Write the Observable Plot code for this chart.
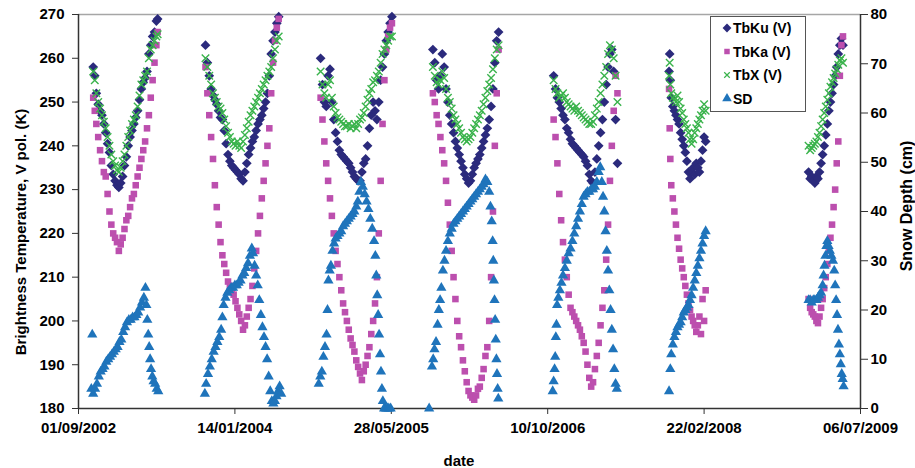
<!DOCTYPE html>
<html>
<head>
<meta charset="utf-8">
<script src="https://cdn.jsdelivr.net/npm/d3@7"></script>
<script src="https://cdn.jsdelivr.net/npm/@observablehq/plot@0.6"></script>
<style>
  html, body { margin: 0; padding: 0; background: #fff; }
  #wrap { position: relative; width: 915px; height: 468px; overflow: hidden; font-family: "Liberation Sans", Arial, sans-serif; }
  #wrap > svg, #wrap > figure { position: absolute; left: 0; top: 0; margin: 0; }
</style>
</head>
<body>
<div id="wrap"></div>
<script>
// ---------- tick labels / axes ----------
const xTickDates = ["2002-09-01", "2004-01-14", "2005-05-28", "2006-10-10", "2008-02-22", "2009-07-06"];
const leftTicks = [180, 190, 200, 210, 220, 230, 240, 250, 260, 270];
const rightTicks = [0, 10, 20, 30, 40, 50, 60, 70, 80];
const seriesNames = ["TbKu (V)", "TbKa (V)", "TbX (V)", "SD"];

// ---------- season 2002-03 ----------
const tbDates1 = ["2002-10-18","2002-10-23","2002-10-28","2002-11-03","2002-11-09","2002-11-15","2002-11-21","2002-11-27","2002-12-03","2002-12-09","2002-12-15","2002-12-21","2002-12-27","2003-01-02","2003-01-08","2003-01-14","2003-01-20","2003-01-26","2003-02-01","2003-02-07","2003-02-13","2003-02-19","2003-02-25","2003-03-03","2003-03-09","2003-03-15","2003-03-21","2003-03-27","2003-04-02","2003-04-08","2003-04-14","2003-04-20","2003-04-26","2003-05-02","2003-05-08","2003-05-12"];
const ku1 = [258,256,252,249.5,248,247,245,243,240.5,238.5,235.5,233.5,232,231,230.5,231.5,233,235.5,237.5,240,242,243.5,245,246.5,248,250.5,253,254.5,255.5,257,261,263,265,266,268.5,269];
const ka1 = [251,248,245,242,239,236.5,234,233,229,225,222,220,219,218,216,217.5,219,221,223,224,226,228,229,231,233,235,237,239,241,244,247,251,255,259,263,266];
const tx1 = [257,255,252,250,248.5,247,245.5,244,242,240,238,236.5,235.5,234.5,234,235,236.5,238,240,242,243.5,245,246,247,249,251.5,254,255,256,257,260,262,263,264,265,265.5];
const sdDates1 = ["2002-10-12","2002-10-15","2002-10-18","2002-10-24","2002-10-30","2002-11-05","2002-11-11","2002-11-17","2002-11-23","2002-11-29","2002-12-05","2002-12-11","2002-12-17","2002-12-23","2002-12-29","2003-01-04","2003-01-10","2003-01-16","2003-01-22","2003-01-28","2003-02-03","2003-02-09","2003-02-15","2003-02-21","2003-02-27","2003-03-05","2003-03-11","2003-03-17","2003-03-23","2003-03-29","2003-04-03","2003-04-06","2003-04-09","2003-04-12","2003-04-15","2003-04-18","2003-04-21","2003-04-25","2003-04-29","2003-05-04","2003-05-09","2003-05-14"];
const sd1 = [4,15,3,4,5,6.5,7.5,8,8.5,9.5,10,10.5,11,11.5,12,12.5,13.5,14,15.5,16.5,17.5,18,18,18.5,18.5,19,19.5,20.5,21.5,22.5,24.5,21,18,15,12.5,10,8,6.5,5.5,5,4,3.5];

// ---------- season 2003-04 ----------
const tbDates2 = ["2003-10-12","2003-10-18","2003-10-24","2003-10-30","2003-11-05","2003-11-11","2003-11-17","2003-11-23","2003-11-29","2003-12-05","2003-12-11","2003-12-17","2003-12-23","2003-12-29","2004-01-04","2004-01-10","2004-01-16","2004-01-22","2004-01-28","2004-02-03","2004-02-09","2004-02-15","2004-02-21","2004-02-27","2004-03-04","2004-03-10","2004-03-16","2004-03-22","2004-03-28","2004-04-03","2004-04-09","2004-04-15","2004-04-21","2004-04-27","2004-05-03","2004-05-09","2004-05-15","2004-05-21","2004-05-27","2004-06-02"];
const ku2 = [263,259,256,253,251.5,250.5,249.5,248,246.5,246,243.5,240.5,238,236.5,235.5,235,234.5,234,233.5,232.5,232,234,236,238,239.5,241,242,243.5,245,246,247,248.5,250,252,256,261,264,266,268,269.5];
const ka2 = [258,252,247,242,237,231,226,222,218,215,213,211,209,208,207,206,204.5,203,201.5,200,198,199,201,203,205,208,212,216,220,224,228,232,236,240,244,252,259,264,267,269];
const tx2 = [260,258,256,254,252,251,250,249,248.5,247.5,246,244.5,243,242,241,240.5,240,241,240,239.5,241,242.5,244,245.5,247,248,249,250,251,252,253,254,255,256,257,258,260,262,264,265];
const sdDates2 = ["2003-10-10","2003-10-14","2003-10-20","2003-10-26","2003-11-01","2003-11-07","2003-11-13","2003-11-19","2003-11-25","2003-12-01","2003-12-05","2003-12-09","2003-12-15","2003-12-21","2003-12-27","2004-01-02","2004-01-08","2004-01-14","2004-01-20","2004-01-26","2004-02-01","2004-02-07","2004-02-13","2004-02-19","2004-02-25","2004-03-02","2004-03-08","2004-03-12","2004-03-17","2004-03-22","2004-03-27","2004-04-01","2004-04-06","2004-04-11","2004-04-16","2004-04-21","2004-04-26","2004-05-01","2004-05-06","2004-05-11","2004-05-16","2004-05-21","2004-05-26","2004-05-31","2004-06-05","2004-06-10"];
const sd2 = [3,5,7,8.5,10,11.5,12.5,13.5,14.5,16,18.5,21,22.5,23.5,24,24.5,24.5,25,25,25.5,26,27,27.5,28.5,29.5,31,32.5,31.5,29,27,25,22,19,16.5,14.5,12.5,10,6.5,3.5,1.5,1,1.5,2.5,3.5,4.5,3];

// ---------- season 2004-05 ----------
const tbDates3 = ["2004-10-14","2004-10-20","2004-10-26","2004-11-01","2004-11-07","2004-11-13","2004-11-19","2004-11-25","2004-12-01","2004-12-07","2004-12-13","2004-12-19","2004-12-25","2004-12-31","2005-01-06","2005-01-12","2005-01-18","2005-01-24","2005-01-30","2005-02-05","2005-02-11","2005-02-17","2005-02-23","2005-03-01","2005-03-07","2005-03-13","2005-03-19","2005-03-25","2005-03-31","2005-04-06","2005-04-12","2005-04-18","2005-04-24","2005-04-30","2005-05-06","2005-05-12","2005-05-18","2005-05-24","2005-05-30"];
const ku3 = [260,254,250,249,256,257.5,250,246,243,241,239,238,237.5,237,236.5,236,235,234,233,232.5,232,232,234,236,237,240,244,247,250,248,246,250,255,258,261,264,266,268,269.5];
const ka3 = [251,246,241,236,232,228,224,220,216,213,210,207,204,202,200,198,196,194.5,193,191,189.5,188,186.5,188.5,190,192,194,197,200,204,210,220,232,245,255,262,265,267,268];
const tx3 = [257,254,252,251,254,255,251,249,247.5,246.5,246,245.5,245,244.5,244.5,245,244,244.5,245,244,245,246,246.5,247.5,249,250.5,252,253,254.5,255,256,257,259,261,262,263,264,265,265];
const sdDates3 = ["2004-10-08","2004-10-13","2004-10-18","2004-10-23","2004-10-28","2004-11-02","2004-11-05","2004-11-08","2004-11-12","2004-11-16","2004-11-21","2004-11-26","2004-12-01","2004-12-07","2004-12-13","2004-12-19","2004-12-25","2004-12-31","2005-01-06","2005-01-12","2005-01-18","2005-01-24","2005-01-30","2005-02-05","2005-02-10","2005-02-15","2005-02-20","2005-02-26","2005-03-04","2005-03-10","2005-03-16","2005-03-22","2005-03-28","2005-04-03","2005-04-07","2005-04-10","2005-04-13","2005-04-16","2005-04-19","2005-04-22","2005-04-25","2005-04-28","2005-05-01","2005-05-05","2005-05-10","2005-05-15","2005-05-20","2005-05-26"];
const sd3 = [5,6.5,7.5,10.5,12.5,15,20,26,28,29,32,33.5,34.5,35,35.5,36,37,37.5,38,38.5,39,39.5,40,41,42,44,46,45,43.5,42,40.5,38.5,36.5,34,31,27,23,19,15,11,7.5,4,1.5,0,0,0,0,0];

// ---------- season 2005-06 ----------
const tbDates4 = ["2005-10-08","2005-10-14","2005-10-20","2005-10-26","2005-11-01","2005-11-07","2005-11-13","2005-11-19","2005-11-25","2005-12-01","2005-12-07","2005-12-13","2005-12-19","2005-12-25","2005-12-31","2006-01-06","2006-01-12","2006-01-18","2006-01-24","2006-01-30","2006-02-05","2006-02-11","2006-02-17","2006-02-23","2006-03-01","2006-03-07","2006-03-13","2006-03-19","2006-03-25","2006-03-31","2006-04-06","2006-04-12","2006-04-18","2006-04-24","2006-04-30","2006-05-06"];
const ku4 = [262,259,255,253,256,261,258,253,250,247,245,243,241,239.5,238,236.5,235,233.5,232.5,231.5,232,233.5,235,236,237,238,239.5,241,242.5,244,246,249,253,259,264,266];
const ka4 = [252,250,247,245,242,239,236,232,227,222,216,210,205,200,196.5,194,191,188.5,186,184,183,182.5,182,183,184.5,185,187,189,192,194,200,210,225,240,252,262];
const tx4 = [258,256,254.5,254,255,257,255.5,253,251,250,248.5,247,246,245,244,243,242,241.5,241,241.5,242,243,244,245,246,247,248,249.5,251,252.5,254,255.5,257.5,260,262,263];
const sdDates4 = ["2005-09-26","2005-10-05","2005-10-09","2005-10-13","2005-10-18","2005-10-23","2005-10-27","2005-10-31","2005-11-04","2005-11-09","2005-11-14","2005-11-19","2005-11-25","2005-12-01","2005-12-07","2005-12-13","2005-12-19","2005-12-25","2005-12-31","2006-01-06","2006-01-12","2006-01-18","2006-01-24","2006-01-30","2006-02-05","2006-02-11","2006-02-17","2006-02-23","2006-03-01","2006-03-07","2006-03-13","2006-03-19","2006-03-25","2006-03-31","2006-04-06","2006-04-10","2006-04-14","2006-04-17","2006-04-19","2006-04-21","2006-04-23","2006-04-25","2006-04-27","2006-04-29","2006-05-01","2006-05-03","2006-05-05"];
const sd4 = [0,8.5,10,12,13.5,17,20,22,24.5,28,30,32,34,35.5,36.5,37.5,38,38.5,39,39.5,40,40.5,41,41.5,42,42.5,43,43.5,44,44.5,45,45.5,46.5,46,44,41,38,34,30,26,22,18,14,10,7,4,2];

// ---------- season 2006-07 ----------
const tbDates5 = ["2006-10-29","2006-11-04","2006-11-10","2006-11-16","2006-11-22","2006-11-28","2006-12-04","2006-12-10","2006-12-16","2006-12-22","2006-12-28","2007-01-03","2007-01-09","2007-01-15","2007-01-21","2007-01-27","2007-02-02","2007-02-08","2007-02-14","2007-02-20","2007-02-26","2007-03-04","2007-03-10","2007-03-16","2007-03-22","2007-03-28","2007-04-03","2007-04-09","2007-04-15","2007-04-21","2007-04-27","2007-05-03","2007-05-09","2007-05-15","2007-05-21"];
const ku5 = [256,253,251,250,248.5,247,246,244,243,241.5,240.5,240,239.5,239,238.5,238,237.5,236.5,235.5,233.5,232,231.5,234,237,240,243,246,250,254,258,261,262,257,246,236];
const ka5 = [246,242,236,229,223,218,214,210,206,203,202,201,200,199,198,196.5,195,193,190,187,185,186,189,192,195,199,203,207,214,222,232,240,248,256,252];
const tx5 = [255,253,252,251,251.5,252,251,250,249.5,249,248.5,248,249,248,247.5,247,246.5,246,245.5,245,245,245.5,247,248.5,250,252,254,256,258,261,263,262,260,256,250];
const sdDates5 = ["2006-10-26","2006-10-29","2006-11-01","2006-11-03","2006-11-05","2006-11-07","2006-11-09","2006-11-13","2006-11-18","2006-11-23","2006-11-28","2006-12-04","2006-12-10","2006-12-16","2006-12-22","2006-12-28","2007-01-03","2007-01-09","2007-01-15","2007-01-21","2007-01-27","2007-02-02","2007-02-08","2007-02-14","2007-02-20","2007-02-26","2007-03-04","2007-03-10","2007-03-16","2007-03-22","2007-03-27","2007-04-01","2007-04-05","2007-04-09","2007-04-13","2007-04-17","2007-04-21","2007-04-25","2007-04-29","2007-05-03","2007-05-07","2007-05-11","2007-05-15","2007-05-19"];
const sd5 = [3.5,5.5,8,10.5,14.5,17,21,22.5,24,25.5,27,28.5,30,31.5,32.5,34,35.5,37,38.5,40,41.5,43,43.5,44,44,44.5,44.5,45,46,48,49,46,43,40,36,32,28,24,20,16,12,8,5,4];

// ---------- season 2007-08 ----------
const tbDates6 = ["2007-11-02","2007-11-04","2007-11-06","2007-11-09","2007-11-14","2007-11-19","2007-11-24","2007-11-29","2007-12-04","2007-12-09","2007-12-14","2007-12-19","2007-12-24","2007-12-29","2008-01-03","2008-01-08","2008-01-13","2008-01-18","2008-01-23","2008-01-28","2008-02-02","2008-02-07","2008-02-12","2008-02-17","2008-02-22","2008-02-27"];
const ku6 = [257,261,255,251,249,248,247,246,245,243,241.5,240,238.5,236.5,234,232.5,234,235,233.5,236,235,234,236.5,239,242,241];
const ka6 = [253,244,237,231,228,225,222,219,216.5,214,212,210,208,206,204,202.5,201,200,199,197.5,199,201,197,205,200,207];
const tx6 = [256,259,254,252,251,250.5,250,251.5,250,248.5,247.5,246,245,244,243,241.5,240.5,241.5,243,244,245,246,247,248,249.5,248];
const sdDates6 = ["2007-11-02","2007-11-06","2007-11-09","2007-11-14","2007-11-19","2007-11-24","2007-11-29","2007-12-04","2007-12-09","2007-12-14","2007-12-19","2007-12-24","2007-12-29","2008-01-03","2008-01-08","2008-01-13","2008-01-18","2008-01-23","2008-01-28","2008-02-02","2008-02-07","2008-02-12","2008-02-17","2008-02-22","2008-02-27"];
const sd6 = [3.5,8,11,13,14.5,15.5,16.5,17,17.5,18.5,19.5,20,20.5,21,22,23,24.5,26,27.5,29,30.5,32,33.5,35,36];

// ---------- season 2008-09 ----------
const tbDates7 = ["2009-01-21","2009-01-26","2009-01-31","2009-02-05","2009-02-10","2009-02-15","2009-02-20","2009-02-25","2009-03-02","2009-03-07","2009-03-12","2009-03-17","2009-03-22","2009-03-27","2009-04-01","2009-04-06","2009-04-11","2009-04-16","2009-04-21","2009-04-26","2009-05-01","2009-05-06","2009-05-11"];
const ku7 = [234,232.5,233,232,231.5,233,232.5,234,236,238,240,242.5,245,248,250,252,254,256,258,261,263,264.5,263];
const ka7 = [205,203,202,201.5,201,200,199.5,201,203,205,207.5,210,213,216,219,222,226,230,236,241,256,263,265];
const tx7 = [240,239,239.5,240,240.5,241,242,243,244.5,246,247.5,249,250.5,252,253.5,254.5,255.5,256.5,257.5,258.5,259.5,260,259];
const sdDates7 = ["2009-01-21","2009-01-26","2009-01-31","2009-02-05","2009-02-10","2009-02-15","2009-02-20","2009-02-25","2009-03-02","2009-03-07","2009-03-10","2009-03-13","2009-03-16","2009-03-19","2009-03-22","2009-03-26","2009-03-30","2009-04-04","2009-04-09","2009-04-13","2009-04-16","2009-04-19","2009-04-22","2009-04-25","2009-04-28","2009-05-01","2009-05-04","2009-05-07","2009-05-10","2009-05-13"];
const sd7 = [22,22,21.5,22,22,22,22.5,23,23.5,25,27,29,31,33,34,33,32,31,30,28,25,22,19,16,13,11,9,7,6,4.5];

// ---------- build tables ----------
const tbSeasons = [[tbDates1,ku1,ka1,tx1],[tbDates2,ku2,ka2,tx2],[tbDates3,ku3,ka3,tx3],[tbDates4,ku4,ka4,tx4],[tbDates5,ku5,ka5,tx5],[tbDates6,ku6,ka6,tx6],[tbDates7,ku7,ka7,tx7]];
const sdSeasons = [[sdDates1,sd1],[sdDates2,sd2],[sdDates3,sd3],[sdDates4,sd4],[sdDates5,sd5],[sdDates6,sd6],[sdDates7,sd7]];
const rows = (dates, vals) => dates.map((d, i) => ({date: new Date(d), v: vals[i]})).filter(r => r.v != null);
const kuData = tbSeasons.flatMap(s => rows(s[0], s[1]));
const kaData = tbSeasons.flatMap(s => rows(s[0], s[2]));
const txData = tbSeasons.flatMap(s => rows(s[0], s[3]));
const sdData = sdSeasons.flatMap(s => rows(s[0], s[1]));

const C_KU = "#2b2a7c", C_KA = "#bc4fae", C_TX = "#3ab34c", C_SD = "#1f74bb";
const xDomain = [new Date(xTickDates[0]), new Date(xTickDates[xTickDates.length - 1])];
const dims = {width: 915, height: 468, marginTop: 14, marginRight: 55, marginBottom: 60, marginLeft: 78};
const fontStyle = {fontFamily: "'Liberation Sans', Arial, sans-serif", fontSize: "15px", fontWeight: "bold", color: "#000", background: "transparent", overflow: "visible"};
const fmt = d3.utcFormat("%d/%m/%Y");

const p1 = Plot.plot({
  ...dims,
  style: fontStyle,
  x: {type: "utc", domain: xDomain},
  y: {domain: [180, 270]},
  marks: [
    Plot.ruleY([270], {stroke: "#a6a6a6", strokeWidth: 1.5}),
    Plot.dot(kuData, {x: "date", y: "v", symbol: "diamond2", r: 4.4, fill: C_KU, stroke: "none"}),
    Plot.dot(kaData, {x: "date", y: "v", symbol: "square", r: 3.7, fill: C_KA, stroke: "none"}),
    Plot.dot(txData, {x: "date", y: "v", symbol: "times", r: 3.5, stroke: C_TX, strokeWidth: 1.4, fill: "none"}),
    Plot.axisY({ticks: leftTicks, tickSize: 6, tickPadding: 8, tickFormat: d => d, label: null, stroke: "#333"}),
    Plot.axisX({ticks: xTickDates.map(d => new Date(d)), tickSize: 6, tickPadding: 8, tickFormat: fmt, label: null, stroke: "#333"}),
    Plot.ruleY([180], {stroke: "#333", strokeWidth: 1.5}),
    Plot.ruleX([xDomain[0]], {stroke: "#333", strokeWidth: 1.5})
  ]
});

const p2 = Plot.plot({
  ...dims,
  style: fontStyle,
  x: {type: "utc", domain: xDomain, axis: null},
  y: {domain: [0, 80]},
  marks: [
    Plot.dot(sdData, {x: "date", y: "v", symbol: "triangle", r: 3.8, fill: C_SD, stroke: "none"}),
    Plot.axisY({anchor: "right", ticks: rightTicks, tickSize: 7, tickPadding: 3, tickFormat: d => d, label: null, stroke: "#333"}),
    Plot.ruleX([xDomain[1]], {stroke: "#333", strokeWidth: 1.5})
  ]
});

const wrap = document.getElementById("wrap");
wrap.appendChild(p1);
wrap.appendChild(p2);

// axis titles
const s1 = d3.select(p1);
s1.append("text").attr("transform", "translate(20,232) rotate(-90)")
  .attr("text-anchor", "middle").attr("dominant-baseline", "central")
  .attr("font-size", 15).attr("font-weight", "bold").attr("fill", "#000")
  .text("Brightness Temperature, V pol. (K)");
s1.append("text").attr("transform", "translate(906,206) rotate(-90)")
  .attr("text-anchor", "middle").attr("dominant-baseline", "central")
  .attr("font-size", 16).attr("font-weight", "bold").attr("fill", "#000")
  .text("Snow Depth (cm)");
s1.append("text").attr("x", 459).attr("y", 466)
  .attr("text-anchor", "middle")
  .attr("font-size", 15).attr("font-weight", "bold").attr("fill", "#000")
  .text("date");

// legend
const leg = d3.select(wrap).append("svg")
  .attr("width", 96).attr("height", 96)
  .style("position", "absolute").style("left", "710px").style("top", "16px");
leg.append("rect").attr("x", 0.5).attr("y", 0.5).attr("width", 95).attr("height", 95)
  .attr("fill", "#fff").attr("stroke", "#555");
const legSym = [
  {name: seriesNames[0], path: d3.symbol(d3.symbolDiamond2, 50)(), fill: C_KU, stroke: "none"},
  {name: seriesNames[1], path: d3.symbol(d3.symbolSquare, 30)(), fill: C_KA, stroke: "none"},
  {name: seriesNames[2], path: d3.symbol(d3.symbolTimes, 22)(), fill: "none", stroke: C_TX},
  {name: seriesNames[3], path: d3.symbol(d3.symbolTriangle, 40)(), fill: C_SD, stroke: "none"}
];
legSym.forEach((s, i) => {
  const g = leg.append("g").attr("transform", `translate(0,${12 + i * 23.5})`);
  g.append("path").attr("d", s.path).attr("transform", "translate(17,0)")
    .attr("fill", s.fill).attr("stroke", s.stroke).attr("stroke-width", 1.2);
  g.append("text").attr("x", 23).attr("y", 0).attr("dominant-baseline", "central")
    .attr("font-family", "'Liberation Sans', Arial, sans-serif")
    .attr("font-size", 14).attr("font-weight", "bold").text(s.name);
});
</script>
</body>
</html>
